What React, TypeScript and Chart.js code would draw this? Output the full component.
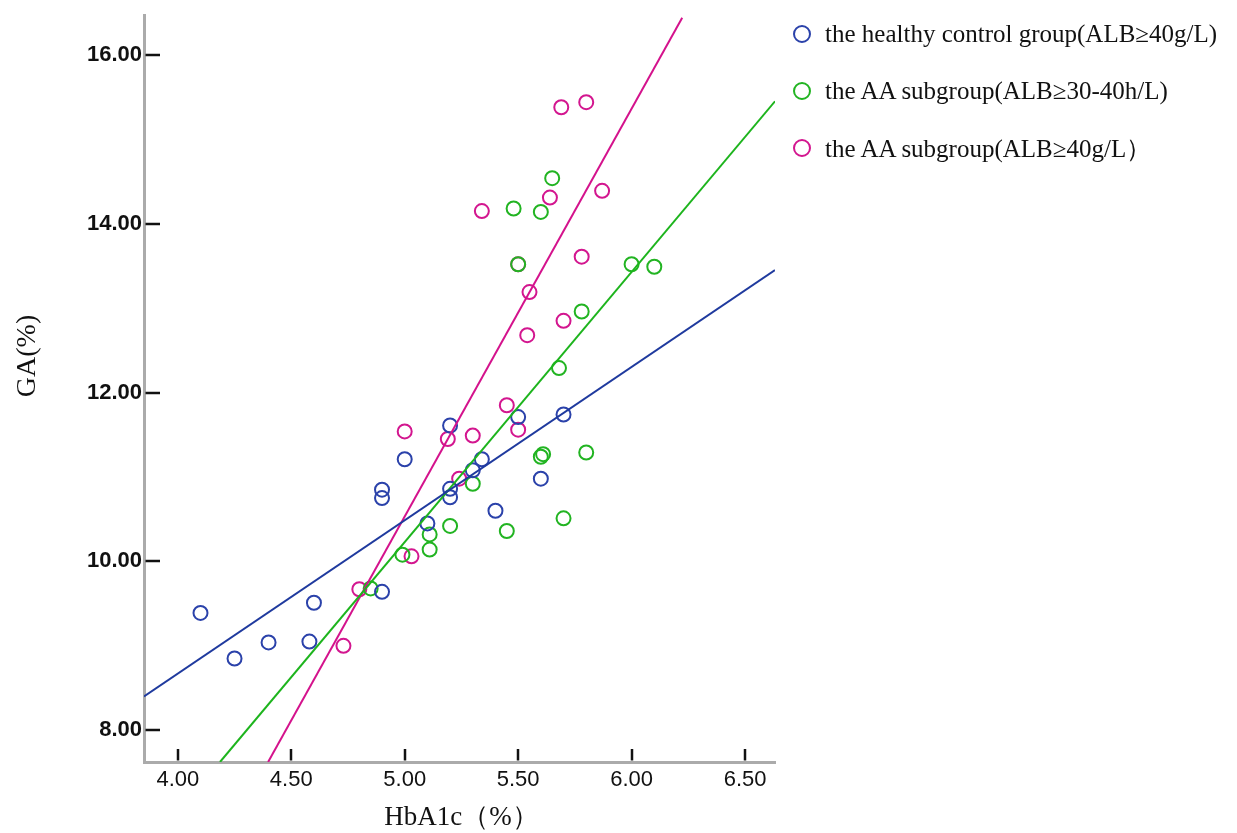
import React, { useEffect, useRef } from "react";
import { Chart, registerables } from "chart.js";

Chart.register(...registerables);

// ---- data ----
const healthyX = [4.10, 4.25, 4.40, 4.60, 4.58, 4.90, 4.90, 4.90, 5.00, 5.20, 5.20, 5.20, 5.10, 5.30, 5.34, 5.40, 5.50, 5.60, 5.70];
const healthyY = [9.39, 8.85, 9.04, 9.51, 9.05, 9.64, 10.85, 10.75, 11.21, 11.61, 10.86, 10.76, 10.45, 11.08, 11.21, 10.60, 11.71, 10.98, 11.74];

const aa3040X = [5.61, 5.60, 5.80, 5.30, 5.20, 5.11, 5.11, 4.99, 5.45, 5.70, 4.85, 5.65, 5.48, 5.60, 5.50, 6.00, 6.10, 5.78, 5.68];
const aa3040Y = [11.27, 11.24, 11.29, 10.92, 10.42, 10.32, 10.14, 10.08, 10.36, 10.51, 9.68, 14.54, 14.18, 14.14, 13.52, 13.52, 13.49, 12.96, 12.29];

const aa40X = [5.69, 5.80, 5.87, 5.34, 5.64, 5.50, 5.78, 5.55, 5.70, 5.54, 5.00, 5.19, 5.30, 5.45, 5.50, 5.24, 5.03, 4.80, 4.73];
const aa40Y = [15.38, 15.44, 14.39, 14.15, 14.31, 13.52, 13.61, 13.19, 12.85, 12.68, 11.54, 11.45, 11.49, 11.85, 11.56, 10.98, 10.06, 9.67, 9.00];

// fit lines (end points)
const healthyFitX = [3.851, 6.632];
const healthyFitY = [8.40, 13.45];
const aa3040FitX = [4.186, 6.632];
const aa3040FitY = [7.624, 15.45];
const aa40FitX = [4.398, 6.223];
const aa40FitY = [7.624, 16.44];

const xTicks = [4.0, 4.5, 5.0, 5.5, 6.0, 6.5];
const yTicks = [8, 10, 12, 14, 16];

const legendLabels = [
  "the healthy control group(ALB≥40g/L)",
  "the AA subgroup(ALB≥30-40h/L)",
  "the AA subgroup(ALB≥40g/L）",
];

const xTitle = "HbA1c（%）";
const yTitle = "GA(%)";

const X_MIN = 3.851;
const X_MAX = 6.632;
const Y_MIN = 7.624;
const Y_MAX = 16.47;

const BLUE = "#2b42aa";
const GREEN = "#22b422";
const MAGENTA = "#d3168f";
const colors = [BLUE, GREEN, MAGENTA];

const pts = (xs: number[], ys: number[]) => xs.map((x, i) => ({ x, y: ys[i] }));

const innerTicksPlugin = {
  id: "innerTicks",
  afterDraw(chart: any) {
    const { ctx, chartArea, scales } = chart;
    ctx.save();
    ctx.strokeStyle = "#111";
    ctx.lineWidth = 2.5;
    ctx.lineCap = "butt";
    yTicks.forEach((v) => {
      const y = Math.round(scales.y.getPixelForValue(v));
      ctx.beginPath();
      ctx.moveTo(chartArea.left + 1.5, y);
      ctx.lineTo(chartArea.left + 16, y);
      ctx.stroke();
    });
    xTicks.forEach((v) => {
      const x = Math.round(scales.x.getPixelForValue(v));
      ctx.beginPath();
      ctx.moveTo(x, chartArea.bottom - 1.5);
      ctx.lineTo(x, chartArea.bottom - 13);
      ctx.stroke();
    });
    // axis titles
    ctx.fillStyle = "#111";
    ctx.textAlign = "center";
    ctx.textBaseline = "middle";
    ctx.font = "27px 'Liberation Serif', serif";
    ctx.fillText(xTitle, (chartArea.left + chartArea.right) / 2 + 2, 818);
    ctx.translate(28, 356);
    ctx.rotate(-Math.PI / 2);
    ctx.font = "28px 'Liberation Serif', serif";
    ctx.fillText(yTitle, 0, 0);
    ctx.restore();
  },
};

export default function App() {
  const ref = useRef<HTMLCanvasElement>(null);

  useEffect(() => {
    document.body.style.margin = "0";
    const scatter = (label: string, data: any[], color: string) => ({
      type: "scatter" as const,
      label,
      data,
      borderColor: color,
      backgroundColor: "rgba(0,0,0,0)",
      pointRadius: 7,
      pointHoverRadius: 7,
      pointBorderWidth: 2,
      borderWidth: 2,
      showLine: false,
      order: 2,
    });
    const fit = (data: any[], color: string) => ({
      type: "line" as const,
      label: "",
      data,
      borderColor: color,
      borderWidth: 2,
      pointRadius: 0,
      tension: 0,
      fill: false,
      order: 1,
    });
    const chart = new Chart(ref.current!, {
      type: "scatter",
      data: {
        datasets: [
          scatter(legendLabels[0], pts(healthyX, healthyY), BLUE),
          scatter(legendLabels[1], pts(aa3040X, aa3040Y), GREEN),
          scatter(legendLabels[2], pts(aa40X, aa40Y), MAGENTA),
          fit(pts(healthyFitX, healthyFitY), "#1f3a9e"),
          fit(pts(aa3040FitX, aa3040FitY), "#1db41d"),
          fit(pts(aa40FitX, aa40FitY), "#d4128c"),
        ] as any,
      },
      options: {
        responsive: false,
        animation: false,
        devicePixelRatio: 1,
        layout: { padding: { left: 0, top: 10, right: 1237 - 775, bottom: 0 } },
        plugins: { legend: { display: false }, tooltip: { enabled: false } },
        scales: {
          x: {
            type: "linear",
            min: X_MIN,
            max: X_MAX,
            afterFit: (s: any) => { s.height = 833 - 762; },
            afterBuildTicks: (s: any) => { s.ticks = xTicks.map((v) => ({ value: v })); },
            grid: { display: true, drawOnChartArea: false, drawTicks: false },
            border: { display: true, color: "#ababab", width: 3 },
            ticks: {
              padding: 5,
              color: "#111",
              font: { family: "'Liberation Sans', Arial, sans-serif", size: 22 },
              callback: (v: any) => Number(v).toFixed(2),
            },
          },
          y: {
            type: "linear",
            min: Y_MIN,
            max: Y_MAX,
            afterFit: (s: any) => { s.width = 144; },
            afterBuildTicks: (s: any) => { s.ticks = yTicks.map((v) => ({ value: v })); },
            grid: { display: true, drawOnChartArea: false, drawTicks: false },
            border: { display: true, color: "#ababab", width: 3 },
            ticks: {
              padding: 2,
              color: "#111",
              font: { family: "'Liberation Sans', Arial, sans-serif", size: 22, weight: "bold" },
              callback: (v: any) => Number(v).toFixed(2),
            },
          },
        },
      } as any,
      plugins: [innerTicksPlugin],
    });
    return () => chart.destroy();
  }, []);

  const legendY = [34, 91, 148];

  return (
    <div style={{ position: "fixed", left: 0, top: 0, width: 1237, height: 833, background: "#fff" }}>
      <canvas ref={ref} width={1237} height={833} style={{ display: "block", width: 1237, height: 833 }} />
      {legendLabels.map((t, i) => (
        <div
          key={i}
          style={{
            position: "absolute",
            left: 793,
            top: legendY[i] - 16,
            height: 32,
            display: "flex",
            alignItems: "center",
            whiteSpace: "nowrap",
            fontFamily: "'Liberation Serif', serif",
            fontSize: 25,
            color: "#111",
          }}
        >
          <span
            style={{
              display: "inline-block",
              width: 14,
              height: 14,
              borderRadius: "50%",
              border: `2.5px solid ${colors[i]}`,
              marginRight: 14,
            }}
          />
          <span>{t}</span>
        </div>
      ))}
    </div>
  );
}
